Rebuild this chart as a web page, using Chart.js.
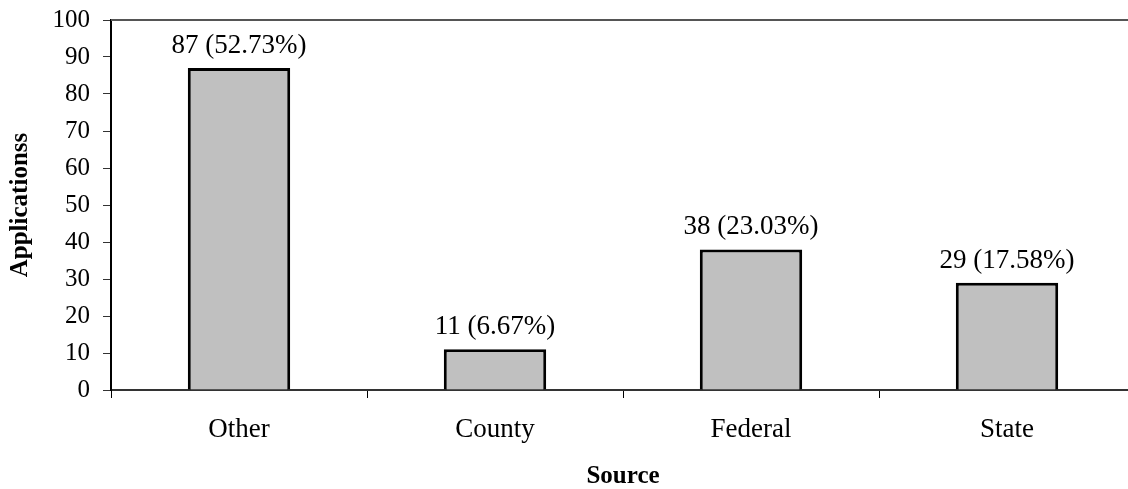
<!DOCTYPE html>
<html>
<head>
<meta charset="utf-8">
<script src="https://cdn.jsdelivr.net/npm/chart.js@4/dist/chart.umd.min.js"></script>
<style>
  html, body { margin: 0; padding: 0; background: #fff; overflow: hidden; }
  #wrap { width: 1128px; height: 489px; overflow: hidden; }
</style>
</head>
<body>
<div id="wrap"><canvas id="appChart" width="1140" height="489"></canvas></div>
<script>
// data
const categories = ['Other', 'County', 'Federal', 'State'];
const applications = [87, 11, 38, 29];
const percents = ['52.73%', '6.67%', '23.03%', '17.58%'];

const serif = '"Liberation Serif", "Times New Roman", serif';

// value labels above each bar, like "87 (52.73%)"
const barLabels = {
    id: 'barLabels',
    afterDatasetsDraw(chart) {
        const ctx = chart.ctx;
        const meta = chart.getDatasetMeta(0);
        ctx.save();
        ctx.font = '27px ' + serif;
        ctx.fillStyle = '#000';
        ctx.textAlign = 'center';
        ctx.textBaseline = 'alphabetic';
        meta.data.forEach((bar, i) => {
            ctx.fillText(applications[i] + ' (' + percents[i] + ')', bar.x, bar.y - 15);
        });
        ctx.restore();
    }
};

// top edge of the plot frame
const topLine = {
    id: 'topLine',
    afterDraw(chart) {
        const a = chart.chartArea;
        const ctx = chart.ctx;
        ctx.save();
        ctx.strokeStyle = '#555';
        ctx.lineWidth = 2;
        ctx.beginPath();
        ctx.moveTo(a.left, a.top);
        ctx.lineTo(a.right, a.top);
        ctx.stroke();
        ctx.restore();
    }
};

const ctx = document.getElementById('appChart').getContext('2d');
new Chart(ctx, {
    type: 'bar',
    data: {
        labels: categories,
        datasets: [{
            data: applications,
            backgroundColor: '#c0c0c0',
            borderColor: '#000',
            borderWidth: 3,
            barPercentage: 0.4,
            categoryPercentage: 1.0
        }]
    },
    options: {
        responsive: false,
        animation: false,
        layout: { padding: { left: 0, right: 5, top: 20, bottom: 0 } },
        plugins: {
            legend: { display: false },
            tooltip: { enabled: false }
        },
        scales: {
            x: {
                grid: {
                    offset: true,
                    drawOnChartArea: false,
                    drawTicks: true,
                    tickLength: 8,
                    color: '#000'
                },
                border: { display: true, color: '#333', width: 2 },
                ticks: {
                    color: '#000',
                    padding: 16,
                    font: { family: serif, size: 27 }
                },
                title: {
                    display: true,
                    text: 'Source',
                    color: '#000',
                    font: { family: serif, size: 25, weight: 'bold', lineHeight: 1 },
                    padding: { top: 0, bottom: 0 }
                },
                afterFit(scale) { scale.height = 99; }
            },
            y: {
                min: 0,
                max: 100,
                ticks: {
                    stepSize: 10,
                    color: '#000',
                    padding: 13,
                    font: { family: serif, size: 25 }
                },
                grid: {
                    drawOnChartArea: false,
                    drawTicks: true,
                    tickLength: 8,
                    color: '#333'
                },
                border: { display: true, color: '#000', width: 2 },
                title: {
                    display: true,
                    text: 'Applicationss',
                    color: '#000',
                    font: { family: serif, size: 25, weight: 'bold', lineHeight: 1 },
                    padding: { top: 8, bottom: 0 }
                },
                afterFit(scale) {
                    scale.width = 111;
                    scale.paddingTop = 0;
                    scale.paddingBottom = 0;
                }
            }
        }
    },
    plugins: [barLabels, topLine]
});
</script>
</body>
</html>
